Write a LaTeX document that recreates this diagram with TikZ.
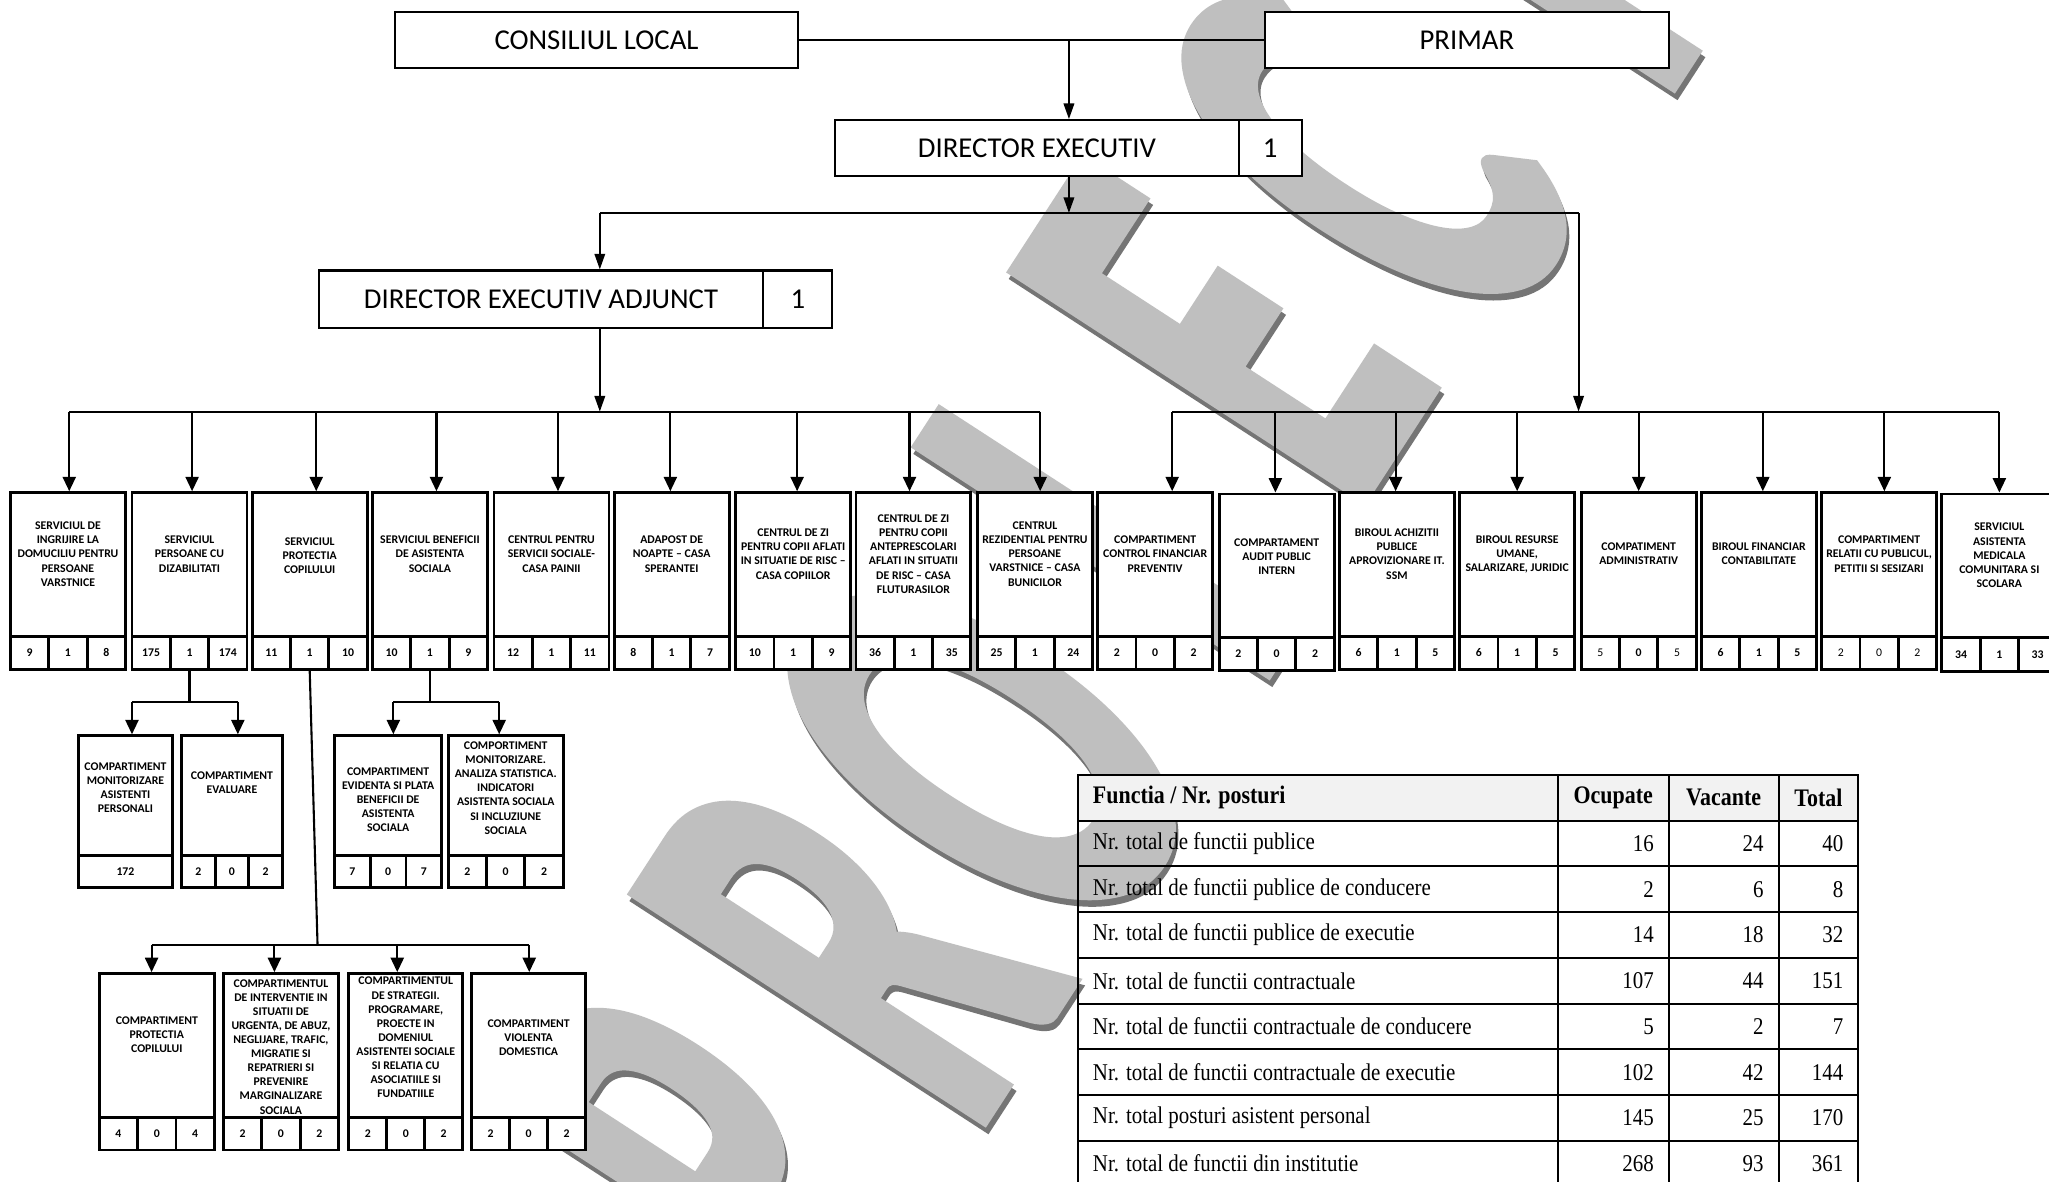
\documentclass[tikz,border=0pt]{standalone}
\usepackage{fontspec}
\setmainfont{Carlito}
\newfontfamily\tnrfont{Liberation Serif}
\newfontfamily\wmfont[FakeBold=2.5]{Carlito Bold}
\usetikzlibrary{arrows.meta}
\definecolor{wmgray}{HTML}{BFBFBF}
\definecolor{wmshadow}{HTML}{757575}
\definecolor{hdrgray}{HTML}{F2F2F2}
% upper part of an org box: name, xl, xr, ytop, ydiv, text-y, text
\newcommand\orgupper[7]{%
  \node[orgbox, minimum width={(#3-#2)*0.5pt}, minimum height={(#5-#4)*0.5pt}] (#1) at ({(#2+#3)/2},{(#4+#5)/2}) {};
  \node[orgtext] (#1t) at ({(#2+#3)/2},#6) {#7};}
% three number cells: name, xl, xr, ydiv, ybot, n1, n2, n3
\newcommand\orgcells[8]{%
  \node[numcell, minimum width={(#3-#2)*0.5pt/3}, minimum height={(#5-#4)*0.5pt}] (#1a) at ({#2+(#3-#2)/6},{(#4+#5)/2}) {#6};
  \node[numcell, minimum width={(#3-#2)*0.5pt/3}, minimum height={(#5-#4)*0.5pt}] (#1b) at ({(#2+#3)/2},{(#4+#5)/2}) {#7};
  \node[numcell, minimum width={(#3-#2)*0.5pt/3}, minimum height={(#5-#4)*0.5pt}] (#1c) at ({#3-(#3-#2)/6},{(#4+#5)/2}) {#8};}
\newcommand\tstretch[1]{\scalebox{1}[1.15]{#1}}
\newcommand\wmletter[1]{\scalebox{0.8}[1.52]{#1}}
\begin{document}
\begin{tikzpicture}[x=0.5pt,y=-0.5pt,
  topbox/.style={draw, line width=0.8pt, fill=white, inner sep=0pt, font=\fontsize{11}{13}\selectfont},
  orgbox/.style={draw, line width=1.1pt, fill=white, inner sep=0pt},
  orgtext/.style={inner sep=0pt, align=center, font=\fontsize{4.5}{5.4}\selectfont\bfseries},
  numcell/.style={draw, line width=1.1pt, fill=white, inner sep=0pt, font=\fontsize{4.5}{5.4}\selectfont\bfseries},
  conn/.style={line width=0.8pt},
  arrA/.style={conn, -{Triangle[width=4pt,length=6pt]}},
  arrB/.style={conn, -{Triangle[width=5pt,length=5.5pt]}},
  tblline/.style={line width=0.75pt},
  tbltext/.style={inner sep=0pt, font=\tnrfont\fontsize{8}{9.6}\selectfont},
  tblhead/.style={inner sep=0pt, font=\tnrfont\fontsize{8.4}{10}\selectfont\bfseries},
  wmtext/.style={inner sep=0pt, rotate=57, font=\wmfont\fontsize{160}{160}\selectfont}
]
\clip (0,0) rectangle (1568,904);
\fill[white] (0,0) rectangle (1568,904);

% ---------------- watermark (one node per letter) ----------------
\foreach \ch/\cx/\cy [count=\k] in {P/547/885, R/650/723, O/751/572, I/845/415, E/935/255, C/1045/120, T/1155/-34} {
  \node[wmtext, text=wmshadow] (wms\k) at ({\cx+2},{\cy+5}) {\wmletter{\ch}};
}
\foreach \ch/\cx/\cy [count=\k] in {P/547/885, R/650/723, O/751/572, I/845/415, E/935/255, C/1045/120, T/1155/-34} {
  \node[wmtext, text=wmgray] (wm\k) at (\cx,\cy) {\wmletter{\ch}};
}

% ---------------- table ----------------
\fill[hdrgray] (825,593) rectangle (1422,628);
\draw[tblline] (825,593) rectangle (1422,908);
\foreach \yy in {628,663,698,733,768,803,838,873} {\draw[tblline] (825,\yy) -- (1422,\yy);}
\foreach \xx in {1192,1277,1361} {\draw[tblline] (\xx,593) -- (\xx,908);}
\node[tblhead, anchor=west] (h0) at (836,610.5) {\tstretch{Functia / Nr. posturi}};
\node[tblhead] (h1) at (1234.5,610.5) {\tstretch{Ocupate}};
\node[tblhead] (h2) at (1319,610.5) {\tstretch{Vacante}};
\node[tblhead] (h3) at (1391.5,610.5) {\tstretch{Total}};
\foreach \lab/\oc/\va/\tt [count=\i] in {
  Nr. total de functii publice/16/24/40,
  Nr. total de functii publice de conducere/2/6/8,
  Nr. total de functii publice de executie/14/18/32,
  Nr. total de functii contractuale/107/44/151,
  Nr. total de functii contractuale de conducere/5/2/7,
  Nr. total de functii contractuale de executie/102/42/144,
  Nr. total posturi asistent personal/145/25/170,
  Nr. total de functii din institutie/268/93/361} {
  \pgfmathsetmacro\yc{628+35*\i-17.5}
  \node[tbltext, anchor=west] (r\i) at (836,\yc) {\tstretch{\lab}};
  \node[tbltext, anchor=east] (o\i) at (1266,\yc) {\tstretch{\oc}};
  \node[tbltext, anchor=east] (v\i) at (1350,\yc) {\tstretch{\va}};
  \node[tbltext, anchor=east] (t\i) at (1411,\yc) {\tstretch{\tt}};
}

% ---------------- top boxes ----------------
\node[topbox, minimum width=154.5pt, minimum height=21.5pt] (cl) at (456.5,30.5) {CONSILIUL LOCAL};
\node[topbox, minimum width=154.5pt, minimum height=21.5pt] (pr) at (1122.5,30.5) {PRIMAR};
\node[topbox, minimum width=154.5pt, minimum height=21.5pt] (de) at (793.5,113.5) {DIRECTOR EXECUTIV};
\node[topbox, minimum width=24pt, minimum height=21.5pt] (den) at (972,113.5) {1};
\node[topbox, minimum width=170pt, minimum height=22pt] (dea) at (414,229) {DIRECTOR EXECUTIV ADJUNCT};
\node[topbox, minimum width=26.5pt, minimum height=22pt] (dean) at (610.5,229) {1};

% ---------------- row of services ----------------
\orgupper{b1}{8}{96}{377}{487}{424}{SERVICIUL DE\\INGRIJIRE LA\\DOMUCILIU PENTRU\\PERSOANE\\VARSTNICE}
\orgcells{b1}{8}{96}{487}{512}{9}{1}{8}
\orgupper{b2}{101}{189}{377}{487}{424}{SERVICIUL\\PERSOANE CU\\DIZABILITATI}
\orgcells{b2}{101}{189}{487}{512}{175}{1}{174}
\orgupper{b3}{193}{281}{377}{487}{425}{SERVICIUL\\PROTECTIA\\COPILULUI}
\orgcells{b3}{193}{281}{487}{512}{11}{1}{10}
\orgupper{b4}{285}{373}{377}{487}{424}{SERVICIUL BENEFICII\\DE ASISTENTA\\SOCIALA}
\orgcells{b4}{285}{373}{487}{512}{10}{1}{9}
\orgupper{b5}{378}{466}{377}{487}{424}{CENTRUL PENTRU\\SERVICII SOCIALE-\\CASA PAINII}
\orgcells{b5}{378}{466}{487}{512}{12}{1}{11}
\orgupper{b6}{470}{558}{377}{487}{424}{ADAPOST DE\\NOAPTE -- CASA\\SPERANTEI}
\orgcells{b6}{470}{558}{487}{512}{8}{1}{7}
\orgupper{b7}{563}{651}{377}{487}{424}{CENTRUL DE ZI\\PENTRU COPII AFLATI\\IN SITUATIE DE RISC --\\CASA COPIILOR}
\orgcells{b7}{563}{651}{487}{512}{10}{1}{9}
\orgupper{b8}{655}{743}{377}{487}{424}{CENTRUL DE ZI\\PENTRU COPII\\ANTEPRESCOLARI\\AFLATI IN SITUATII\\DE RISC -- CASA\\FLUTURASILOR}
\orgcells{b8}{655}{743}{487}{512}{36}{1}{35}
\orgupper{b9}{748}{836}{377}{487}{424}{CENTRUL\\REZIDENTIAL PENTRU\\PERSOANE\\VARSTNICE -- CASA\\BUNICILOR}
\orgcells{b9}{748}{836}{487}{512}{25}{1}{24}
\orgupper{b10}{840}{928}{377}{487}{424}{COMPARTIMENT\\CONTROL FINANCIAR\\PREVENTIV}
\orgcells{b10}{840}{928}{487}{512}{2}{0}{2}
\orgupper{b11}{933}{1021}{378}{488}{426}{COMPARTAMENT\\AUDIT PUBLIC\\INTERN}
\orgcells{b11}{933}{1021}{488}{513}{2}{0}{2}
\orgupper{b12}{1025}{1113}{377}{487}{424}{BIROUL ACHIZITII\\PUBLICE\\APROVIZIONARE IT.\\SSM}
\orgcells{b12}{1025}{1113}{487}{512}{6}{1}{5}
\orgupper{b13}{1117}{1205}{377}{487}{424}{BIROUL RESURSE\\UMANE,\\SALARIZARE, JURIDIC}
\orgcells{b13}{1117}{1205}{487}{512}{6}{1}{5}
\orgupper{b14}{1210}{1298}{377}{487}{424}{COMPATIMENT\\ADMINISTRATIV}
\orgcells{b14}{1210}{1298}{487}{512}{\mdseries 5}{0}{\mdseries 5}
\orgupper{b15}{1302}{1390}{377}{487}{424}{BIROUL FINANCIAR\\CONTABILITATE}
\orgcells{b15}{1302}{1390}{487}{512}{6}{1}{5}
\orgupper{b16}{1394}{1482}{377}{487}{424}{COMPARTIMENT\\RELATII CU PUBLICUL,\\PETITII SI SESIZARI}
\orgcells{b16}{1394}{1482}{487}{512}{\mdseries 2}{\mdseries 0}{\mdseries 2}
\orgupper{b17}{1486}{1574}{378}{488}{425}{SERVICIUL\\ASISTENTA\\MEDICALA\\COMUNITARA SI\\SCOLARA}
\orgcells{b17}{1486}{1574}{488}{514}{34}{1}{33}

% ---------------- sub-boxes ----------------
\orgupper{sa}{60}{132}{563}{655}{603}{COMPARTIMENT\\MONITORIZARE\\ASISTENTI\\PERSONALI}
\node[numcell, minimum width=36pt, minimum height=12pt] (saa) at (96,667) {172};
\orgupper{sb}{139}{216}{563}{655}{599}{COMPARTIMENT\\EVALUARE}
\orgcells{sb}{139}{216}{655}{679}{2}{0}{2}
\orgupper{sc}{256}{338}{563}{655}{612}{COMPARTIMENT\\EVIDENTA SI PLATA\\BENEFICII DE\\ASISTENTA\\SOCIALA}
\orgcells{sc}{256}{338}{655}{679}{7}{0}{7}
\orgupper{sd}{343}{431}{563}{655}{603}{COMPORTIMENT\\MONITORIZARE.\\ANALIZA STATISTICA.\\INDICATORI\\ASISTENTA SOCIALA\\SI INCLUZIUNE\\SOCIALA}
\orgcells{sd}{343}{431}{655}{679}{2}{0}{2}

\orgupper{se}{76}{164}{745}{855}{792}{COMPARTIMENT\\PROTECTIA\\COPILULUI}
\orgcells{se}{76}{164}{855}{880}{4}{0}{4}
\orgupper{sf}{171}{259}{745}{855}{801}{COMPARTIMENTUL\\DE INTERVENTIE IN\\SITUATII DE\\URGENTA, DE ABUZ,\\NEGLIJARE, TRAFIC,\\MIGRATIE SI\\REPATRIERI SI\\PREVENIRE\\MARGINALIZARE\\SOCIALA}
\orgcells{sf}{171}{259}{855}{880}{2}{0}{2}
\orgupper{sg}{267}{354}{745}{855}{794}{COMPARTIMENTUL\\DE STRATEGII.\\PROGRAMARE,\\PROECTE IN\\DOMENIUL\\ASISTENTEI SOCIALE\\SI RELATIA CU\\ASOCIATIILE SI\\FUNDATIILE}
\orgcells{sg}{267}{354}{855}{880}{2}{0}{2}
\orgupper{sh}{361}{448}{745}{855}{794}{COMPARTIMENT\\VIOLENTA\\DOMESTICA}
\orgcells{sh}{361}{448}{855}{880}{2}{0}{2}

% ---------------- connectors (top) ----------------
\draw[conn] (cl.east) -- (pr.west);
\coordinate (j1) at (818,30.5);
\draw[arrA] (j1) -- (j1 |- de.north);
\coordinate (j2) at (818,163);
\draw[arrA] (j1 |- de.south) -- (j2);
\coordinate (j3) at (459,163);
\coordinate (j4) at (1208,163);
\draw[conn] (j3) -- (j4);
\draw[arrA] (j3) -- (j3 |- dea.north);
\coordinate (j5) at (459,315);
\draw[arrA] (j3 |- dea.south) -- (j5);
\coordinate (j6) at (1208,315);
\draw[arrA] (j4) -- (j6);

% ---------------- buses ----------------
\foreach \n/\xx in {b1/53,b2/147,b3/242,b4/334,b5/427,b6/513,b7/610,b8/696,b9/796,b10/897,b11/976,b12/1068,b13/1161,b14/1254,b15/1349,b16/1442,b17/1530} {
  \coordinate (p\n) at (\xx,315);
  \draw[arrB] (p\n) -- (p\n |- \n.north);
}
\draw[conn] (pb1) -- (pb9);
\draw[conn] (pb10) -- (pb17);

% ---------------- sub connectors ----------------
\coordinate (s2l) at (101,537);
\coordinate (s2r) at (182,537);
\draw[conn] (b2b.south) -- (b2b.south |- s2l);
\draw[conn] (s2l) -- (s2r);
\draw[arrB] (s2l) -- (s2l |- sa.north);
\draw[arrB] (s2r) -- (s2r |- sb.north);

\coordinate (s4l) at (301,537);
\coordinate (s4r) at (382,537);
\draw[conn] (b4b.south) -- (b4b.south |- s4l);
\draw[conn] (s4l) -- (s4r);
\draw[arrB] (s4l) -- (s4l |- sc.north);
\draw[arrB] (s4r) -- (s4r |- sd.north);

\coordinate (s3) at (243,723);
\coordinate (s3a) at (116,723);
\coordinate (s3b) at (210,723);
\coordinate (s3c) at (304,723);
\coordinate (s3d) at (405,723);
\draw[conn] (b3b.south) -- (s3);
\draw[conn] (s3a) -- (s3d);
\draw[arrB] (s3a) -- (s3a |- se.north);
\draw[arrB] (s3b) -- (s3b |- sf.north);
\draw[arrB] (s3c) -- (s3c |- sg.north);
\draw[arrB] (s3d) -- (s3d |- sh.north);
\end{tikzpicture}
\end{document}
